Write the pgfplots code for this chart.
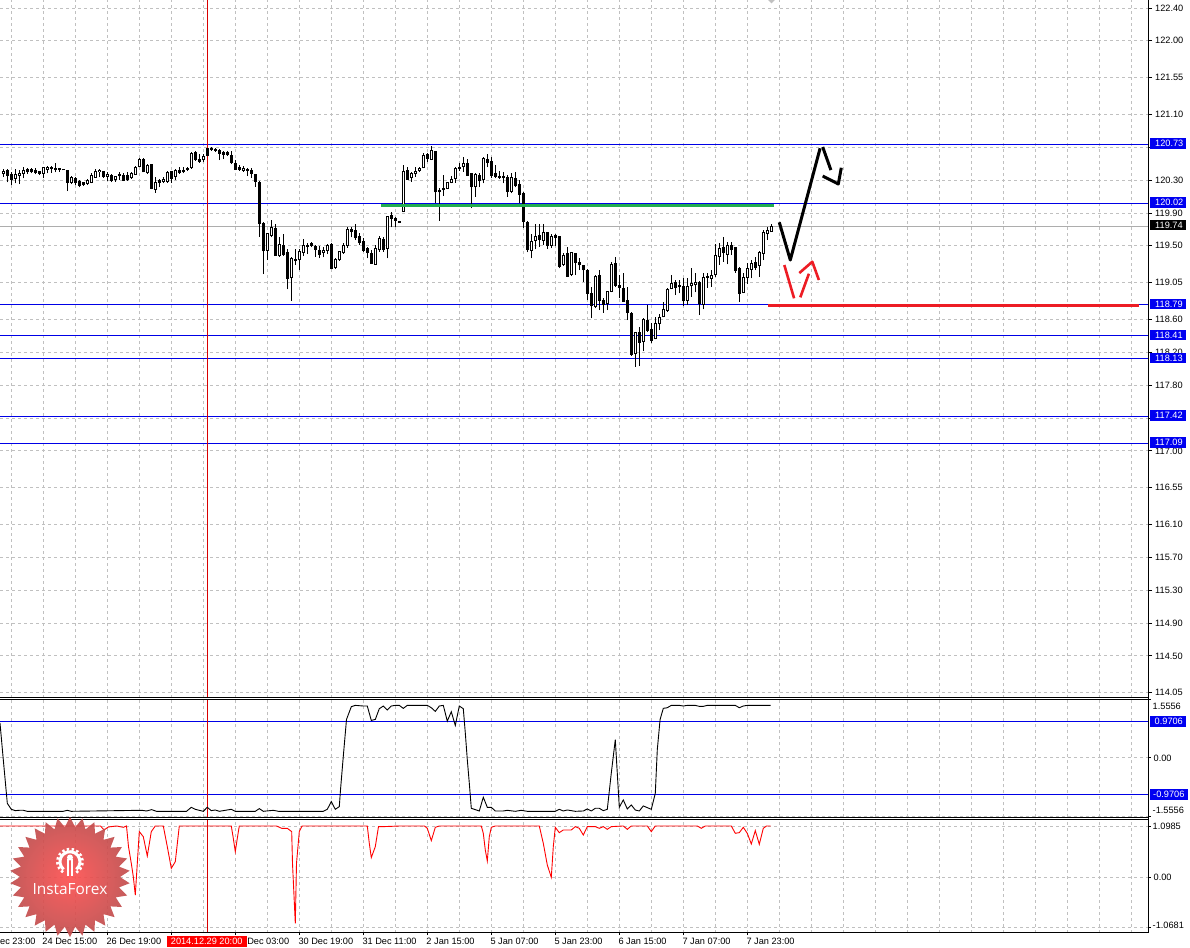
\documentclass[border=0pt]{standalone}
\usepackage{pgfplots}
\usepackage{pgfplotstable}
\usepackage{fontspec}
\setmainfont{Liberation Sans}
\newfontfamily\logofont{Open Sans}
\pgfplotsset{compat=1.18}
\usetikzlibrary{shapes.geometric}
\definecolor{linkblue}{HTML}{0000E6}
\definecolor{boxblue}{HTML}{0000F0}
\definecolor{gridgray}{HTML}{C0C0C0}
\definecolor{anngreen}{HTML}{22AC50}
\definecolor{annred}{HTML}{ED1C24}
\pgfplotstableread{
k top bot hi lo
0 120.407 120.379 120.432 120.343
3 120.371 120.322 120.432 120.261
4 120.379 120.355 120.424 120.253
5 120.420 120.379 120.465 120.322
10 120.452 120.383 120.460 120.322
11 120.452 120.436 120.473 120.383
12 120.452 120.444 120.473 120.391
17 120.338 120.274 120.347 120.253
21 120.294 120.261 120.310 120.241
22 120.363 120.274 120.391 120.261
23 120.411 120.338 120.436 120.330
24 120.420 120.407 120.440 120.334
26 120.375 120.347 120.395 120.294
28 120.347 120.314 120.355 120.282
32 120.383 120.330 120.399 120.318
33 120.460 120.375 120.477 120.367
34 120.558 120.465 120.574 120.456
36 120.485 120.391 120.497 120.375
38 120.274 120.192 120.343 120.147
40 120.310 120.290 120.343 120.261
41 120.399 120.282 120.407 120.269
43 120.416 120.343 120.440 120.302
47 120.631 120.452 120.643 120.440
50 120.595 120.550 120.619 120.517
60 120.448 120.420 120.477 120.403
66 119.652 119.448 119.660 119.326
67 119.725 119.623 119.814 119.603
69 119.517 119.379 119.611 119.367
72 119.347 119.111 119.359 118.830
74 119.432 119.330 119.456 119.204
75 119.509 119.416 119.578 119.375
80 119.444 119.416 119.489 119.359
81 119.509 119.440 119.518 119.399
83 119.338 119.241 119.347 119.216
84 119.432 119.330 119.440 119.318
85 119.509 119.416 119.530 119.404
86 119.705 119.501 119.725 119.477
93 119.469 119.278 119.509 119.265
94 119.591 119.452 119.619 119.428
96 119.859 119.469 119.867 119.347
100 120.407 119.916 120.485 119.912
102 120.383 120.330 120.403 120.282
103 120.407 120.379 120.465 120.343
104 120.444 120.416 120.465 120.403
105 120.603 120.452 120.627 120.444
107 120.664 120.558 120.717 120.546
111 120.274 120.204 120.282 120.188
112 120.310 120.274 120.355 120.261
113 120.444 120.322 120.456 120.269
115 120.505 120.465 120.587 120.403
118 120.375 120.220 120.391 120.099
120 120.566 120.310 120.578 120.261
127 120.338 120.163 120.383 120.139
132 119.554 119.444 119.639 119.347
133 119.611 119.566 119.762 119.456
135 119.664 119.562 119.766 119.509
137 119.619 119.501 119.643 119.469
140 119.383 119.274 119.408 119.257
142 119.420 119.151 119.428 119.131
148 119.131 118.757 119.143 118.737
151 118.944 118.802 118.952 118.717
152 119.274 118.944 119.306 118.932
158 118.444 118.184 118.453 118.026
160 118.607 118.331 118.615 118.217
163 118.558 118.367 118.635 118.359
164 118.631 118.550 118.668 118.473
165 118.729 118.635 118.818 118.627
166 118.973 118.712 118.981 118.696
167 119.046 118.977 119.143 118.969
171 119.005 118.839 119.103 118.778
172 119.042 119.013 119.225 118.879
173 119.054 119.025 119.163 118.932
175 119.115 118.790 119.163 118.725
177 119.139 119.103 119.204 119.001
178 119.383 119.147 119.522 119.123
179 119.473 119.367 119.530 119.265
181 119.505 119.399 119.550 119.274
185 119.115 118.928 119.172 118.920
186 119.225 119.111 119.286 119.034
187 119.286 119.212 119.326 119.103
189 119.420 119.257 119.440 119.119
190 119.668 119.404 119.692 119.326
191 119.692 119.648 119.733 119.570
192 119.741 119.672 119.766 119.672
}\whitecandles
\pgfplotstableread{
k top bot hi lo
1 120.424 120.363 120.432 120.274
2 120.375 120.314 120.403 120.241
6 120.428 120.403 120.452 120.375
7 120.432 120.403 120.448 120.383
8 120.424 120.391 120.444 120.371
9 120.403 120.383 120.416 120.363
13 120.448 120.432 120.505 120.395
14 120.440 120.432 120.452 120.403
15 120.432 120.426 120.432 120.426
16 120.424 120.274 120.424 120.168
18 120.326 120.274 120.334 120.241
19 120.282 120.241 120.302 120.212
20 120.274 120.253 120.282 120.228
25 120.407 120.351 120.416 120.330
27 120.363 120.302 120.379 120.274
29 120.375 120.355 120.395 120.302
30 120.363 120.302 120.391 120.290
31 120.355 120.310 120.403 120.294
35 120.558 120.403 120.566 120.395
37 120.497 120.200 120.497 120.188
39 120.302 120.274 120.310 120.212
42 120.407 120.322 120.416 120.269
44 120.416 120.399 120.465 120.375
45 120.420 120.403 120.465 120.383
46 120.444 120.428 120.465 120.411
48 120.635 120.554 120.652 120.538
49 120.554 120.534 120.619 120.513
51 120.688 120.599 120.696 120.595
52 120.684 120.672 120.700 120.660
53 120.676 120.660 120.696 120.643
54 120.664 120.627 120.676 120.546
55 120.643 120.619 120.656 120.558
56 120.635 120.611 120.652 120.595
57 120.603 120.513 120.652 120.497
58 120.505 120.436 120.546 120.424
59 120.460 120.432 120.489 120.416
61 120.432 120.416 120.452 120.351
62 120.416 120.383 120.444 120.330
63 120.375 120.282 120.375 120.220
64 120.278 119.770 120.286 119.611
65 119.778 119.439 119.786 119.156
68 119.713 119.379 119.762 119.379
70 119.509 119.399 119.643 119.375
71 119.424 119.099 119.460 118.969
73 119.334 119.318 119.456 119.265
76 119.509 119.489 119.538 119.399
77 119.530 119.505 119.542 119.481
78 119.493 119.456 119.509 119.367
79 119.444 119.399 119.497 119.347
82 119.518 119.229 119.530 119.213
87 119.705 119.672 119.733 119.603
88 119.688 119.599 119.766 119.570
89 119.619 119.546 119.660 119.509
90 119.558 119.448 119.591 119.428
91 119.473 119.416 119.489 119.347
92 119.412 119.290 119.448 119.278
95 119.583 119.456 119.611 119.428
97 119.871 119.839 119.908 119.725
98 119.839 119.810 119.855 119.725
99 119.798 119.786 119.798 119.786
101 120.420 120.314 120.460 120.310
106 120.615 120.566 120.627 120.525
108 120.656 120.159 120.656 120.017
109 120.180 120.159 120.200 119.806
110 120.200 120.184 120.363 120.111
114 120.456 120.440 120.505 120.416
116 120.509 120.363 120.554 120.351
117 120.383 120.220 120.391 119.956
119 120.359 120.294 120.383 120.212
121 120.554 120.517 120.619 120.456
122 120.534 120.363 120.578 120.322
123 120.383 120.351 120.485 120.322
124 120.351 120.330 120.416 120.314
125 120.351 120.334 120.395 120.261
126 120.338 120.168 120.363 120.099
128 120.322 120.232 120.395 120.212
129 120.253 120.127 120.302 120.017
130 120.143 119.794 120.151 119.721
131 119.786 119.456 119.806 119.420
134 119.627 119.574 119.762 119.489
136 119.664 119.501 119.672 119.460
138 119.627 119.599 119.643 119.497
139 119.615 119.253 119.623 119.225
141 119.412 119.131 119.481 119.123
143 119.408 119.298 119.416 119.143
144 119.298 119.269 119.347 119.204
145 119.265 119.208 119.269 119.062
146 119.204 118.920 119.212 118.839
147 118.920 118.769 119.001 118.615
149 119.143 118.839 119.204 118.717
150 118.839 118.790 118.859 118.684
153 119.286 119.021 119.359 119.001
154 119.021 118.989 119.143 118.859
155 118.985 118.826 119.163 118.818
156 118.834 118.684 119.001 118.595
157 118.680 118.172 118.696 118.160
159 118.448 118.327 118.514 118.034
161 118.595 118.465 118.778 118.453
162 118.485 118.347 118.562 118.310
168 119.054 118.989 119.083 118.899
169 119.021 119.001 119.083 118.920
170 119.001 118.830 119.103 118.765
174 119.058 118.798 119.066 118.655
176 119.131 119.115 119.172 118.989
180 119.481 119.416 119.611 119.306
182 119.509 119.452 119.550 119.387
183 119.485 119.196 119.489 119.172
184 119.229 118.920 119.237 118.814
188 119.302 119.241 119.367 119.204
}\blackcandles
\pgfplotsset{
  pane/.style={
    scale only axis, width=1148pt, anchor=south west,
    xmin=-0.825, xmax=286.175,
    axis line style={draw=none},
    tick align=outside, xtick pos=bottom, ytick pos=right,
    xtick={10,26,42,58,74,90,106,122,138,154,170,186},
    minor xtick={2,18,34,50,66,82,98,114,130,146,162,178,194,202,210,218,226,234,242,250,258,266,274,282},
    xmajorgrids=true, xminorgrids=true,
    major grid style={gridgray,line width=0.9pt,dash pattern=on 3pt off 3pt},
    minor grid style={gridgray,line width=0.9pt,dash pattern=on 3pt off 3pt},
    minor tick length=0pt, major tick length=4pt,
    tick style={black,line width=0.9pt},
    x tick style={draw=none},
    xticklabels={},
    yticklabel style={anchor=west,inner sep=0pt,xshift=3pt,font=\fontsize{9.2}{10}\selectfont},
    clip=true,
  },
  hline/.style={linkblue,line width=1pt,forget plot},
  wick/.style={draw=none,mark=none,forget plot,
    error bars/.cd,y dir=plus,y explicit,error mark=none,
    error bar style={draw=black,line width=1pt}},
  body/.style={draw=none,mark=none,forget plot,
    error bars/.cd,y dir=plus,y explicit,error mark=none,
    error bar style={draw=black,line width=3pt}},
  hollow/.style={draw=none,mark=none,forget plot,
    error bars/.cd,y dir=plus,y explicit,error mark=none,
    error bar style={draw=white,line width=1.2pt}},
}
\newcommand{\boxlabel}[4]{% left x, right x, centre y (px from top), text
  \fill[boxblue] ({#1pt},{(947-#3-5.3)*1pt}) rectangle ({#2pt},{(947-#3+5.3)*1pt});
  \node[anchor=west,inner sep=0pt,text=white,font=\fontsize{9.2}{10}\selectfont] at (1155pt,{(947-#3)*1pt}) {#4};
}
\newcommand{\plainlabel}[2]{%
  \node[anchor=west,inner sep=0pt,font=\fontsize{9.2}{10}\selectfont] at (1152.5pt,{(947-#1)*1pt}) {#2};
}
\begin{document}
\begin{tikzpicture}
\path[use as bounding box] (0pt,0pt) rectangle (1190pt,947pt);
% ---------- main price pane
\begin{axis}[pane, at={(0pt,249.3pt)}, height=697.7pt,
  ymin=113.99, ymax=122.4976,
  ytick={114.05,114.50,114.90,115.30,115.70,116.10,116.55,117.00,117.40,117.80,118.20,118.60,119.05,119.50,119.90,120.30,120.70,121.10,121.55,122.00,122.40},
  yticklabels={114.05,114.50,114.90,115.30,115.70,116.10,116.55,117.00,,117.80,118.20,118.60,119.05,119.50,119.90,120.30,,121.10,121.55,122.00,122.40},
  ymajorgrids=true]
\addplot[draw=none,fill=gridgray,forget plot] coordinates {(191.2,122.4976) (192.9,122.4976) (192.05,122.455)} --cycle;
\addplot[gridgray!90!black,line width=1pt,forget plot] coordinates {(-0.825,119.74) (286.175,119.74)};
\addplot[hline] coordinates {(-0.825,120.73) (286.175,120.73)};
\addplot[hline] coordinates {(-0.825,120.02) (286.175,120.02)};
\addplot[hline] coordinates {(-0.825,118.79) (286.175,118.79)};
\addplot[hline] coordinates {(-0.825,118.41) (286.175,118.41)};
\addplot[hline] coordinates {(-0.825,118.13) (286.175,118.13)};
\addplot[hline] coordinates {(-0.825,117.42) (286.175,117.42)};
\addplot[hline] coordinates {(-0.825,117.09) (286.175,117.09)};
\addplot[red!85!black,line width=1pt,forget plot] coordinates {(51,113.99) (51,122.4976)};
\addplot[wick] table[x=k,y=lo,y error plus expr=\thisrow{hi}-\thisrow{lo}] {\whitecandles};
\addplot[wick] table[x=k,y=lo,y error plus expr=\thisrow{hi}-\thisrow{lo}] {\blackcandles};
\addplot[body] table[x=k,y expr=\thisrow{bot}-0.006,y error plus expr=\thisrow{top}-\thisrow{bot}+0.012] {\whitecandles};
\addplot[body] table[x=k,y expr=\thisrow{bot}-0.006,y error plus expr=\thisrow{top}-\thisrow{bot}+0.012] {\blackcandles};
\addplot[hollow] table[x=k,y expr=\thisrow{bot}+0.006,y error plus expr={max(\thisrow{top}-\thisrow{bot}-0.012,0)}] {\whitecandles};
% hand-drawn forecast marks
\addplot[anngreen,line width=3pt,forget plot] coordinates {(94.4,119.994) (192.7,119.994)};
\addplot[annred,line width=3pt,forget plot] coordinates {(191.2,118.774) (283.9,118.774)};
\addplot[black,line width=3pt,line join=round,forget plot] coordinates {(194,119.787) (196.75,119.327) (204.2,120.689)};
\addplot[black,line width=3pt,forget plot] coordinates {(204.85,120.705) (206.9,120.424)};
\addplot[black,line width=3pt,line join=round,forget plot] coordinates {(204.85,120.351) (208.75,120.254) (209.5,120.452)};
\addplot[annred,line width=2.6pt,forget plot] coordinates {(195.25,119.266) (197.7,118.86)};
\addplot[annred,line width=2.6pt,forget plot] coordinates {(199.25,118.872) (201.4,119.16)};
\addplot[annred,line width=2.6pt,line join=round,forget plot] coordinates {(199,119.168) (202.25,119.306) (203.9,119.083)};
\end{axis}
% ---------- first indicator pane
\begin{axis}[pane, at={(0pt,129.7pt)}, height=118pt,
  ymin=-1.5691, ymax=1.5505,
  ytick={-1.5556,0,1.5505}, yticklabels={,0.00,},
  major tick length=2.5pt,
  ymajorgrids=true]
\addplot[hline] coordinates {(-0.825,0.9706) (286.175,0.9706)};
\addplot[hline] coordinates {(-0.825,-0.9706) (286.175,-0.9706)};
\addplot[red!85!black,line width=1pt,forget plot] coordinates {(51,-1.5691) (51,1.5505)};
\addplot[black,line width=0.9pt,forget plot] coordinates {
(-0.83,0.929) (0,-0.046) (1,-1.198) (2,-1.358) (3,-1.393) (4,-1.384) (5,-1.384) (6,-1.411) (15,-1.411) (16,-1.384) (17,-1.411)
(34.6,-1.384) (35.8,-1.402) (37.1,-1.367) (38.3,-1.411) (45.8,-1.411) (47,-1.305) (48,-1.358) (50,-1.411) (51,-1.305) (52,-1.393) (53,-1.376) (54,-1.411)
(57,-1.358) (58,-1.411) (63,-1.411) (64,-1.340) (65,-1.411) (67.5,-1.384) (68.8,-1.411) (80,-1.411) (81,-1.358) (82,-1.154) (83,-1.358) (84,-1.287) (84.3,-0.844)
(85,0.043) (85.8,1.018) (87,1.355) (88,1.390) (90,1.373) (91,1.373) (92,0.992) (93,1.018) (94,1.302) (95,1.373) (96,1.266) (97,1.373) (98,1.390) (99,1.390)
(100,1.311) (101,1.390) (106,1.390) (107,1.328) (108,1.231) (109,1.373) (110,1.390) (111,0.974) (112,1.222) (113,0.859) (114,1.373) (115,1.302) (115.5,0.664)
(116,-0.046) (116.5,-0.666) (117,-1.331) (119,-1.402) (120,-1.039) (121,-1.305) (122,-1.305) (123,-1.402) (125,-1.402) (126,-1.384) (128,-1.411) (129.5,-1.384)
(131,-1.411) (138,-1.411) (139,-1.358) (140,-1.402) (141,-1.376) (143,-1.411) (145,-1.402) (146,-1.349) (147,-1.402) (148,-1.331) (149,-1.331) (150,-1.393)
(151,-1.358) (152,-0.400) (153,0.486) (154,-1.305) (155,-1.110) (156,-1.349) (157,-1.243) (158,-1.376) (159,-1.402) (160,-1.269) (162,-1.358) (163,-0.932)
(163.5,0.220) (164.2,1.018) (165,1.311) (166,1.328) (167,1.390) (169,1.390) (170,1.373) (171,1.390) (173,1.390) (174,1.364) (175,1.364) (176,1.390) (183,1.390)
(184,1.328) (185,1.373) (186,1.390) (191.8,1.390)};
\end{axis}
% ---------- second indicator pane
\begin{axis}[pane, at={(0pt,14.3pt)}, height=113.4pt,
  ymin=-1.1863, ymax=1.242,
  ytick={-1.0681,0,1.0985}, yticklabels={,0.00,},
  major tick length=2.5pt,
  ymajorgrids=true,
  x tick style={draw=black,line width=0.9pt},
  xticklabels={24 Dec 15:00,26 Dec 19:00,,30 Dec 03:00,30 Dec 19:00,31 Dec 11:00,2 Jan 15:00,5 Jan 07:00,5 Jan 23:00,6 Jan 15:00,7 Jan 07:00,7 Jan 23:00},
  xticklabel style={anchor=north west,inner sep=0pt,xshift=-1pt,yshift=-3pt,font=\fontsize{9.2}{10}\selectfont}]
\addplot[red!85!black,line width=1pt,forget plot] coordinates {(51,-1.1863) (51,1.242)};
\addplot[red,line width=0.9pt,forget plot] coordinates {
(-0.83,1.099) (24.3,1.099) (25.2,1.013) (26.25,1.077) (28.3,1.099) (30,1.070) (30.8,1.099) (31.3,0.656) (32,0.299) (32.5,0.014) (33,-0.379) (33.5,0.299) (34,0.978)
(35,0.870) (36,0.456) (37,0.978) (38,1.099) (40,1.099) (41,0.656) (42,0.192) (43,0.335) (44,1.099) (57,1.099) (57.5,0.835) (58,0.549) (58.5,0.835) (59,1.099)
(68.3,1.099) (69.6,1.049) (71,1.049) (72.1,0.978) (72.3,0.299) (73,-0.986) (73.3,0.299) (74,0.978) (74.7,1.099) (91,1.099) (91.5,0.728) (92,0.421) (93,0.656)
(93.8,1.085) (95,1.085) (99.2,1.099) (105.3,1.099) (106,1.049) (107,0.785) (108,1.070) (109,1.099) (119.5,1.099) (120,0.942) (120.5,0.585) (121,0.349) (121.5,0.870)
(122,1.070) (123,1.099) (134,1.099) (135,0.728) (136,0.264) (137,0.000) (137.5,0.656) (138,1.070) (139,0.956) (140,1.013) (142,1.013) (143,1.085) (144,1.049)
(145,0.906) (146,1.085) (148,1.085) (149,1.049) (150,1.085) (151,1.027) (152,1.085) (155,1.099) (156,1.027) (157,1.099) (161,1.099) (162,0.978) (163,1.099)
(173.5,1.099) (174.5,1.049) (175.5,1.099) (182,1.099) (183,0.942) (184,0.956) (185,1.070) (186,0.942) (187,0.713) (188,0.999) (189,0.706) (190,1.049) (190.8,1.099) (191.8,1.099)};
\end{axis}
% ---------- pane frames
\draw[black,line width=1pt] (1148pt,947pt) -- (1148pt,14.3pt);
\draw[black,line width=1pt] (0pt,249.3pt) -- (1148pt,249.3pt);
\draw[black,line width=1pt] (0pt,247.7pt) -- (1148pt,247.7pt);
\draw[black,line width=1pt] (0pt,129.7pt) -- (1148pt,129.7pt);
\draw[black,line width=1pt] (0pt,127.7pt) -- (1148pt,127.7pt);
\draw[black,line width=1pt] (0pt,14.3pt) -- (1148pt,14.3pt);
% ---------- value boxes
\boxlabel{1150}{1185.7}{143.5}{120.73}
\boxlabel{1150}{1185.7}{202.7}{120.02}
\boxlabel{1150}{1185.7}{304}{118.79}
\boxlabel{1150}{1185.7}{335}{118.41}
\boxlabel{1150}{1185.7}{358}{118.13}
\boxlabel{1150}{1185.7}{415.3}{117.42}
\boxlabel{1150}{1185.7}{442.5}{117.09}
\fill[black] (1150pt,716.7pt) rectangle (1185.7pt,727pt);
\node[anchor=west,inner sep=0pt,text=white,font=\fontsize{9.2}{10}\selectfont] at (1155pt,721.7pt) {119.74};
\fill[boxblue] (1150pt,{(947-721.3-5.3)*1pt}) rectangle (1186pt,{(947-721.3+5.3)*1pt});
\node[anchor=west,inner sep=0pt,text=white,font=\fontsize{9.2}{10}\selectfont] at (1154.5pt,{(947-721.3)*1pt}) {0.9706};
\fill[boxblue] (1150pt,{(947-794.5-5.3)*1pt}) rectangle (1188pt,{(947-794.5+5.3)*1pt});
\node[anchor=west,inner sep=0pt,text=white,font=\fontsize{9.2}{10}\selectfont] at (1153pt,{(947-794.5)*1pt}) {-0.9706};
\plainlabel{706}{1.5556}
\plainlabel{810.7}{-1.5556}
\plainlabel{826.7}{1.0985}
\plainlabel{925.7}{-1.0681}
% ---------- time axis extras
\node[anchor=west,inner sep=0pt,font=\fontsize{9.2}{10}\selectfont] at (0pt,{(947-941.7)*1pt}) {ec 23:00};
\fill[red] (166.7pt,0.3pt) rectangle (246.7pt,11pt);
\node[text=white,inner sep=0pt,font=\fontsize{9.2}{10}\selectfont] at (206.7pt,5.5pt) {2014.12.29 20:00};
% ---------- logo
\node[star,star points=30,star point ratio=1.2,minimum size=120pt,inner sep=0pt,
  shading=radial,inner color={rgb,255:red,255;green,80;blue,80},outer color={rgb,255:red,192;green,78;blue,78},opacity=0.92] at (70pt,70pt) {};
\begin{scope}[white]
 \draw[line width=3pt] (70pt,85.3pt) ++(-50:10pt) arc[start angle=-50,end angle=230,radius=10pt];
 \draw[line width=2.6pt,dash pattern=on 2.4pt off 2.4pt] (70pt,85.3pt) ++(-60:12.6pt) arc[start angle=-60,end angle=240,radius=12.6pt];
 \fill (70pt,89.5pt) circle[radius=3pt];
 \fill (67pt,88pt) rectangle (69pt,71pt);
 \fill (71pt,88pt) rectangle (73pt,71pt);
\end{scope}
\node[text=white,inner sep=0pt,font=\logofont\fontsize{15.4}{17}\selectfont] at (70pt,57.5pt) {InstaForex};
\end{tikzpicture}
\end{document}
